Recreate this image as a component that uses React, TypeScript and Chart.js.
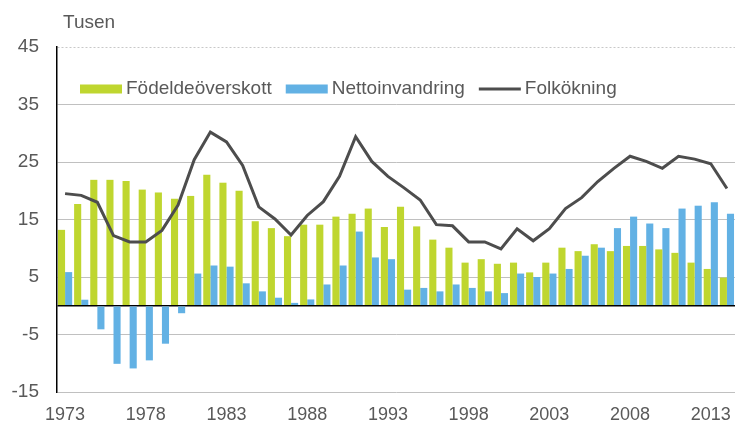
import React, { useEffect, useRef } from "react";
import { Chart, registerables } from "chart.js";

Chart.register(...registerables);

const years = [
  "1973", "1974", "1975", "1976", "1977", "1978", "1979", "1980", "1981", "1982",
  "1983", "1984", "1985", "1986", "1987", "1988", "1989", "1990", "1991", "1992",
  "1993", "1994", "1995", "1996", "1997", "1998", "1999", "2000", "2001", "2002",
  "2003", "2004", "2005", "2006", "2007", "2008", "2009", "2010", "2011", "2012",
  "2013", "2014",
];

const shownYears = ["1973", "1978", "1983", "1988", "1993", "1998", "2003", "2008", "2013"];

const fodelseoverskott = [
  13.2, 17.7, 21.9, 21.9, 21.7, 20.2, 19.7, 18.6, 19.1, 22.8,
  21.4, 20.0, 14.7, 13.5, 12.1, 14.1, 14.1, 15.5, 16.0, 16.9,
  13.7, 17.2, 13.8, 11.5, 10.1, 7.5, 8.1, 7.3, 7.5, 5.8,
  7.5, 10.1, 9.5, 10.7, 9.5, 10.4, 10.4, 9.8, 9.2, 7.5,
  6.4, 4.9,
];

const nettoinvandring = [
  5.85, 1.05, -4.1, -10.1, -10.9, -9.5, -6.6, -1.3, 5.6, 7.0,
  6.8, 3.9, 2.5, 1.4, 0.5, 1.1, 3.7, 7.0, 12.9, 8.4,
  8.1, 2.8, 3.1, 2.5, 3.7, 3.1, 2.5, 2.2, 5.6, 5.0,
  5.6, 6.4, 8.7, 10.1, 13.5, 15.5, 14.3, 13.5, 16.9, 17.4,
  18.0, 16.0,
];

const folkokning = [
  19.5, 19.2, 18.0, 12.2, 11.1, 11.1, 13.1, 17.5, 25.4, 30.2,
  28.5, 24.4, 17.2, 15.1, 12.3, 15.7, 18.1, 22.5, 29.4, 25.1,
  22.5, 20.5, 18.4, 14.1, 13.9, 11.1, 11.1, 9.9, 13.4, 11.3,
  13.4, 16.9, 18.8, 21.6, 23.9, 26.0, 25.1, 23.9, 26.0, 25.5,
  24.7, 20.4,
];

const yTickValues = [-15, -5, 0, 5, 15, 25, 35, 45];
const yLabeled = [-15, -5, 5, 15, 25, 35, 45];
const unitLabel = "Tusen";
const seriesNames = ["Födeldeöverskott", "Nettoinvandring", "Folkökning"];

const GREEN = "#bfd62f";
const BLUE = "#62b1e4";
const LINE = "#4d4d4d";
const TEXT = "#595959";
const FONT = "'Liberation Sans', Arial, sans-serif";

const overlayPlugin = {
  id: "overlay",
  afterDraw(chart: any) {
    const ctx = chart.ctx;
    ctx.save();
    ctx.fillStyle = TEXT;
    ctx.font = `19px ${FONT}`;
    ctx.textBaseline = "middle";
    ctx.textAlign = "left";
    ctx.fillText(unitLabel, 63, 23);

    const y = 89;
    let x = 80;
    const boxW = 42;
    chart.data.datasets.forEach((ds: any, i: number) => {
      const name = seriesNames[i];
      if (ds.type === "line") {
        ctx.strokeStyle = ds.borderColor;
        ctx.lineWidth = 3;
        ctx.beginPath();
        ctx.moveTo(x, y);
        ctx.lineTo(x + boxW, y);
        ctx.stroke();
      } else {
        ctx.fillStyle = ds.backgroundColor;
        ctx.fillRect(x, y - 4.5, boxW, 9);
      }
      x += boxW + 4;
      ctx.fillStyle = TEXT;
      ctx.fillText(name, x, y);
      x += ctx.measureText(name).width + 14;
    });
    ctx.restore();
  },
};

export default function App() {
  const canvasRef = useRef<HTMLCanvasElement | null>(null);

  useEffect(() => {
    document.body.style.margin = "0";
    const canvas = canvasRef.current;
    if (!canvas) return;
    const chart = new Chart(canvas, {
      type: "bar",
      data: {
        labels: years,
        datasets: [
          {
            type: "bar",
            label: seriesNames[0],
            data: fodelseoverskott,
            backgroundColor: GREEN,
            borderWidth: 0,
            order: 2,
          },
          {
            type: "bar",
            label: seriesNames[1],
            data: nettoinvandring,
            backgroundColor: BLUE,
            borderWidth: 0,
            order: 2,
          },
          {
            type: "line",
            label: seriesNames[2],
            data: folkokning,
            borderColor: LINE,
            backgroundColor: LINE,
            borderWidth: 3,
            pointRadius: 0,
            tension: 0,
            fill: false,
            order: 0,
          } as any,
        ],
      },
      options: {
        animation: false,
        responsive: true,
        maintainAspectRatio: false,
        datasets: {
          bar: { categoryPercentage: 0.88, barPercentage: 1.0 },
        },
        layout: { padding: { top: 47, right: 0, bottom: 0, left: 0 } },
        plugins: {
          legend: { display: false },
          tooltip: { enabled: false },
          title: { display: false },
        },
        scales: {
          x: {
            offset: true,
            grid: { display: false },
            border: { display: false },
            afterFit: (scale: any) => {
              scale.height = 32;
            },
            ticks: {
              autoSkip: false,
              maxRotation: 0,
              minRotation: 0,
              padding: 4,
              color: TEXT,
              font: { family: FONT, size: 18 },
              callback: (_v: any, i: number) =>
                shownYears.includes(years[i]) ? years[i] : "",
            },
          },
          y: {
            min: -15,
            max: 45,
            afterBuildTicks: (scale: any) => {
              scale.ticks = yTickValues.map((v) => ({ value: v }));
            },
            afterFit: (scale: any) => {
              scale.width = 57;
            },
            grid: {
              drawTicks: false,
              color: (c: any) =>
                c.tick && c.tick.value === 0
                  ? "#000000"
                  : c.tick && c.tick.value === 45
                  ? "#c8c8c8"
                  : "#c0c0c0",
              lineWidth: (c: any) => (c.tick && c.tick.value === 0 ? 1.5 : 1),
            },
            border: {
              display: true,
              color: "#000000",
              width: 1.5,
              dash: (c: any) => (c.tick && c.tick.value === 45 ? [2, 2] : []),
            } as any,
            ticks: {
              padding: 18,
              color: TEXT,
              font: { family: FONT, size: 19 },
              callback: (v: any) => (yLabeled.includes(Number(v)) ? String(v) : ""),
            },
          },
        },
      },
      plugins: [overlayPlugin],
    });
    return () => chart.destroy();
  }, []);

  return (
    <div style={{ position: "relative", width: 735, height: 424 }}>
      <canvas ref={canvasRef} />
    </div>
  );
}
